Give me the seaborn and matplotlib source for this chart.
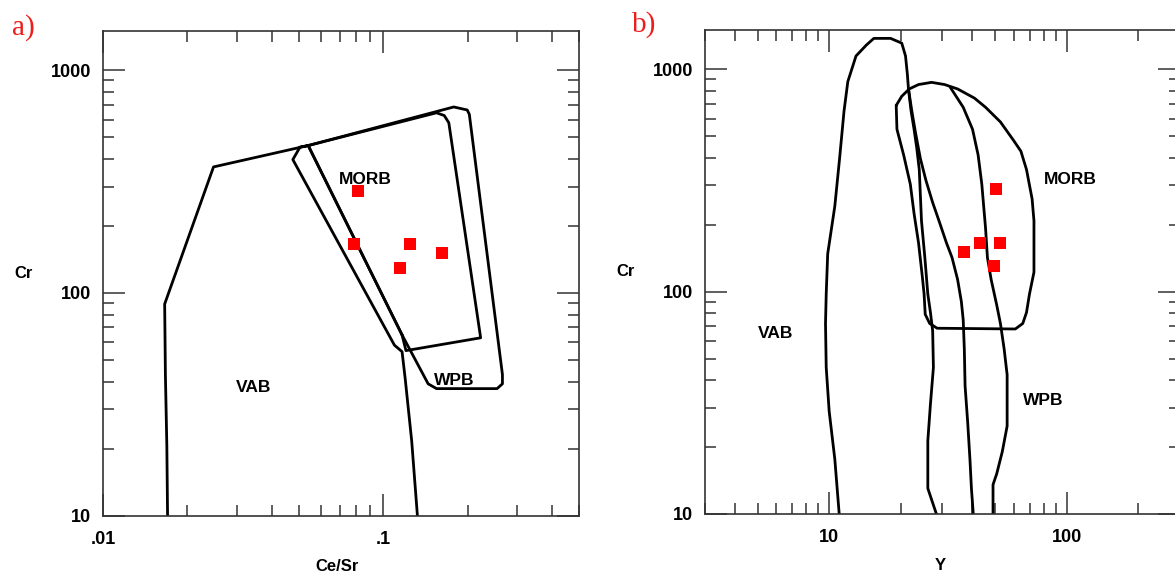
import matplotlib
matplotlib.use("Agg")
from matplotlib import pyplot as plt
from matplotlib.ticker import FixedLocator, FixedFormatter, NullFormatter
import seaborn as sns


# samples (same Cr for both diagrams)
cr = [288, 166, 166, 151, 130]
ce_sr = [0.0813, 0.0788, 0.125, 0.162, 0.115]
y_ppm = [50.2, 43.1, 52.4, 37.1, 49.3]

# a) Cr vs Ce/Sr field boundaries
a_vab_x = [0.0170, 0.0169, 0.0167, 0.0166, 0.0248, 0.0540, 0.0505, 0.0476, 0.1097, 0.1168, 0.1198, 0.1264, 0.1325]
a_vab_y = [10, 20.5, 43.0, 89.2, 368, 459, 452, 397, 58.3, 54.5, 41.4, 21.7, 10]
a_morb_x = [0.0540, 0.155, 0.1652, 0.1715, 0.2228, 0.1206, 0.1168, 0.0540]
a_morb_y = [459, 644, 626, 581, 62.9, 55.1, 64.8, 459]
a_wpb_x = [0.1168, 0.0540, 0.1786, 0.1995, 0.203, 0.2665, 0.2665, 0.255, 0.155, 0.1447, 0.1168]
a_wpb_y = [64.8, 459, 684, 663, 634, 43.0, 39.1, 37.2, 37.2, 39.1, 64.8]

# b) Cr vs Y field boundaries
b_vab_x = [11.02, 10.56, 10.0, 9.716, 9.65, 9.716, 9.857, 10.56, 11.06, 11.55, 11.98, 12.97,
           14.35, 15.42, 18.14, 20.21, 20.96, 21.34, 21.57, 22.12, 22.77, 23.36, 23.95,
           24.47, 25.28, 26.02, 26.69, 27.27, 27.47, 26.69, 26.02, 26.02, 28.28]
b_vab_y = [10, 17.66, 28.93, 45.6, 71.89, 97.4, 147.8, 242, 396.3, 649, 879.1, 1146.6,
           1284.6, 1375.4, 1375.4, 1309.2, 1146.6, 948.6, 814.8, 649, 536.8, 444, 353.7,
           208, 142.3, 97.4, 80.55, 66.63, 45.6, 31.2, 21.35, 13.04, 10]
b_wpb1_x = [21.57, 22.28, 23.10, 24.21, 25.56, 27.27, 29.00, 31.17, 32.90, 34.73, 36.01,
            36.67, 37.07, 37.34, 38.30, 39.14, 39.71, 40.43]
b_wpb1_y = [814.8, 649, 516.8, 396.3, 315.6, 251.4, 208, 165.6, 142.3, 113.3, 90.27,
            74.67, 55.12, 37.72, 25.81, 17.66, 13.04, 10]
b_wpb2_x = [32.31, 36.67, 40.14, 42.37, 43.92, 44.72, 45.54, 46.37, 48.08, 50.76, 52.60,
            54.54, 56.14, 56.14, 53.56, 50.76, 48.96, 48.96]
b_wpb2_y = [830.4, 674.1, 536.8, 411.6, 303.9, 242, 192.8, 142.3, 113.3, 86.91, 71.89,
            55.12, 42.27, 24.85, 19.06, 15.18, 13.55, 10]
b_morb_x = [19.15, 19.29, 20.58, 21.96, 22.77, 23.78, 24.65, 25.10, 25.37, 26.49, 28.48,
            60.78, 65.33, 67.73, 69.71, 72.82, 72.82, 71.51, 67.73, 64.16, 59.69, 52.60,
            45.54, 40.87, 34.73, 30.61, 26.98, 23.78, 21.73, 20.21, 19.15]
b_morb_y = [687, 536.8, 411.6, 303.9, 224.4, 165.6, 117.7, 97.4, 79.04, 71.89, 68.42,
            67.9, 71.89, 80.55, 97.4, 122.3, 208, 261.1, 353.7, 427.5, 479, 579.1,
            674.1, 741.2, 814.8, 852.8, 872.4, 852.8, 814.8, 755.3, 687]

y_major = [10, 100, 1000]
y_major_labels = ['10', '100', '1000']
y_minor = [20, 30, 40, 50, 60, 70, 80, 90, 200, 300, 400, 500, 600, 700, 800, 900]


def boundary(ax, xs, ys):
    sns.lineplot(x=xs, y=ys, sort=False, estimator=None, color='black',
                 linewidth=2, legend=False, ax=ax)


def setup(ax, xlim, xmajor, xlabels, xminor):
    ax.set_xscale('log')
    ax.set_yscale('log')
    ax.set_xlim(xlim)
    ax.set_ylim(10, 1500)
    ax.xaxis.set_major_locator(FixedLocator(xmajor))
    ax.xaxis.set_major_formatter(FixedFormatter(xlabels))
    ax.xaxis.set_minor_locator(FixedLocator(xminor))
    ax.xaxis.set_minor_formatter(NullFormatter())
    ax.yaxis.set_major_locator(FixedLocator(y_major))
    ax.yaxis.set_major_formatter(FixedFormatter(y_major_labels))
    ax.yaxis.set_minor_locator(FixedLocator(y_minor))
    ax.yaxis.set_minor_formatter(NullFormatter())
    ax.tick_params(which='both', direction='in', top=True, right=True,
                   bottom=True, left=True, color='#333333', width=1.1,
                   labelsize=13, labelcolor='black')
    ax.tick_params(which='major', length=16)
    ax.tick_params(which='minor', length=8)
    ax.tick_params(axis='y', pad=8.5)
    ax.tick_params(axis='x', pad=11)
    for s in ax.spines.values():
        s.set_color('#333333')
        s.set_linewidth(1.2)


sns.set_style("white")
plt.rcParams['font.family'] = ['Liberation Sans', 'DejaVu Sans']
plt.rcParams['font.weight'] = 'bold'
plt.rcParams['text.color'] = 'black'
plt.rcParams['axes.labelcolor'] = 'black'

fig = plt.figure(figsize=(11.75, 5.76), dpi=100)
ax1 = fig.add_axes([103 / 1175, 60.3 / 576, 476 / 1175, 484.7 / 576])
ax2 = fig.add_axes([705 / 1175, 62 / 576, 475 / 1175, 484 / 576])

# panel a
setup(ax1, (0.01, 0.5), [0.01, 0.1], ['.01', '.1'],
      [0.02, 0.03, 0.04, 0.05, 0.06, 0.07, 0.08, 0.09, 0.2, 0.3, 0.4, 0.5])
boundary(ax1, a_vab_x, a_vab_y)
boundary(ax1, a_morb_x, a_morb_y)
boundary(ax1, a_wpb_x, a_wpb_y)
sns.scatterplot(x=ce_sr, y=cr, marker='s', s=80, color='#ff0000', linewidth=0,
                zorder=5, ax=ax1)
ax1.text(0.0866, 322, 'MORB', ha='center', va='center', fontsize=12.5)
ax1.text(0.0344, 37.7, 'VAB', ha='center', va='center', fontsize=12.5)
ax1.text(0.1786, 40.6, 'WPB', ha='center', va='center', fontsize=12.5)
ax1.set_xlabel('Ce/Sr', fontsize=12, weight='bold', va='center')
ax1.set_ylabel('Cr', fontsize=12, weight='bold', rotation=0, ha='center', va='center')
ax1.xaxis.set_label_coords(0.4916, -0.104)
ax1.yaxis.set_label_coords(-0.1666, 0.5)

# panel b
setup(ax2, (3, 300), [10, 100], ['10', '100'],
      [3, 4, 5, 6, 7, 8, 9, 20, 30, 40, 50, 60, 70, 80, 90, 200, 300])
boundary(ax2, b_vab_x, b_vab_y)
boundary(ax2, b_wpb1_x, b_wpb1_y)
boundary(ax2, b_wpb2_x, b_wpb2_y)
boundary(ax2, b_morb_x, b_morb_y)
sns.scatterplot(x=y_ppm, y=cr, marker='s', s=80, color='#ff0000', linewidth=0,
                zorder=5, ax=ax2)
ax2.text(103.7, 318, 'MORB', ha='center', va='center', fontsize=12.5)
ax2.text(5.93, 64.6, 'VAB', ha='center', va='center', fontsize=12.5)
ax2.text(79.7, 32.4, 'WPB', ha='center', va='center', fontsize=12.5)
ax2.set_xlabel('Y', fontsize=12, weight='bold', va='center')
ax2.set_ylabel('Cr', fontsize=12, weight='bold', rotation=0, ha='center', va='center')
ax2.xaxis.set_label_coords(0.496, -0.107)
ax2.yaxis.set_label_coords(-0.1676, 0.5)

fig.text(23 / 1175, 1 - 28 / 576, 'a)', color='#ee1c1c', fontsize=21,
         family=['Liberation Serif', 'DejaVu Serif'], weight='normal',
         ha='center', va='center')
fig.text(644 / 1175, 1 - 25 / 576, 'b)', color='#ee1c1c', fontsize=21,
         family=['Liberation Serif', 'DejaVu Serif'], weight='normal',
         ha='center', va='center')

fig.savefig('out.png', dpi=100)
